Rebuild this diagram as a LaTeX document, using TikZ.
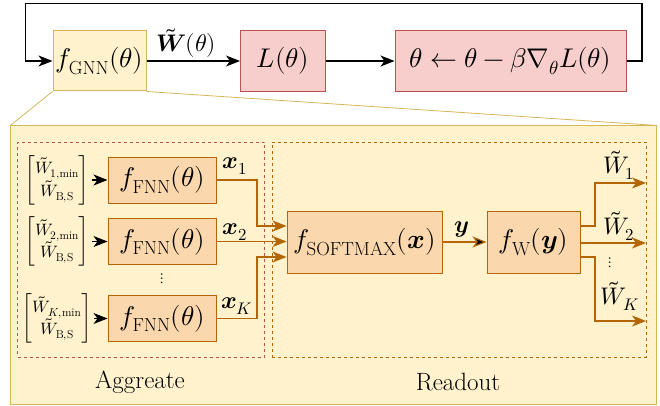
\documentclass[tikz,border=0pt]{standalone}
\usepackage{amsmath}
\usepackage{unicode-math}
\setmathfont{Latin Modern Math}
\usetikzlibrary{arrows.meta}

\definecolor{yelfill}{HTML}{FFF2CC}
\definecolor{yeldraw}{HTML}{D6B656}
\definecolor{redfill}{HTML}{F8CECC}
\definecolor{reddraw}{HTML}{B85450}
\definecolor{orgfill}{HTML}{FAD7AC}
\definecolor{orgdraw}{HTML}{B46504}

\begin{document}
\begin{tikzpicture}[x=1pt, y=-1pt, line width=1.1pt,
  >={Stealth[length=14pt, width=11pt, inset=4pt]},
  big/.style={font=\fontsize{27}{32}\selectfont},
  lab/.style={font=\fontsize{24}{28}\selectfont},
  txt/.style={font=\fontsize{25}{30}\selectfont},
  small/.style={font=\fontsize{16.5}{20}\selectfont},
  dots/.style={font=\fontsize{15}{18}\selectfont, inner sep=0pt},
  box/.style={draw, inner sep=0pt, line width=1pt, big},
  yelbox/.style={box, fill=yelfill, draw=yeldraw},
  redbox/.style={box, fill=redfill, draw=reddraw},
  orgbox/.style={box, fill=orgfill, draw=orgdraw},
  oarr/.style={->, draw=orgdraw},
  karr/.style={->, draw=black}]
\useasboundingbox (0,0) rectangle (660,406);

% top row
\node[yelbox, minimum width=93pt, minimum height=60pt] (gnn) at (99.5,61) {$f_{\mathrm{GNN}}(\theta)$};
\node[redbox, minimum width=85pt, minimum height=61pt] (loss) at (283,61) {$L(\theta)$};
\node[redbox, minimum width=231pt, minimum height=61pt] (update) at (510.5,61) {$\theta \leftarrow \theta - \beta\nabla_{\theta}L(\theta)$};
\node[lab] (wlab) at (186,43) {$\tilde{\symbfit{W}}(\theta)$};
\coordinate (loopR) at (642,3.5);
\coordinate (loopL) at (25.7,3.5);
\path [karr] (gnn) edge (loss);
\path [karr] (loss) edge (update);
\draw[karr] (update.east) -| (loopR) -- (loopL) |- (gnn.west);

% zoomed GNN
\node[draw=yeldraw, fill=yelfill, line width=1pt, minimum width=646pt, minimum height=278pt] (gnnbig) at (333.8,265) {};
\draw[yeldraw, line width=0.8pt] (gnn.south west) -- (gnnbig.north west);
\draw[yeldraw, line width=0.8pt] (gnn.south east) -- (gnnbig.north east);
\node[draw=reddraw, dashed, line width=0.8pt, minimum width=247pt, minimum height=215pt] (agg) at (141,249.5) {};
\node[draw=orgdraw, dashed, line width=0.8pt, minimum width=374pt, minimum height=215pt] (readout) at (459,249.5) {};
\node[txt] (agglab) at (140,382) {Aggreate};
\node[txt] (readlab) at (458,382) {Readout};

% aggregate
\node[orgbox, minimum width=108pt, minimum height=46pt] (fnn1) at (162,180) {$f_{\mathrm{FNN}}(\theta)$};
\node[orgbox, minimum width=108pt, minimum height=46pt] (fnn2) at (162,241.5) {$f_{\mathrm{FNN}}(\theta)$};
\node[orgbox, minimum width=108pt, minimum height=46pt] (fnnK) at (162,318.5) {$f_{\mathrm{FNN}}(\theta)$};
\node[dots] (fdots) at (162,279) {$\vdots$};
\node[small, inner sep=1pt] (vec1) at (57,180) {$\begin{bmatrix}\tilde{W}_{1,\min}\\ \tilde{W}_{\mathrm{B,S}}\end{bmatrix}$};
\node[small, inner sep=1pt] (vec2) at (57,241.5) {$\begin{bmatrix}\tilde{W}_{2,\min}\\ \tilde{W}_{\mathrm{B,S}}\end{bmatrix}$};
\node[small, inner sep=1pt] (vecK) at (57,318.5) {$\begin{bmatrix}\tilde{W}_{K,\min}\\ \tilde{W}_{\mathrm{B,S}}\end{bmatrix}$};
\path [karr] (vec1) edge (fnn1);
\path [karr] (vec2) edge (fnn2);
\path [karr] (vecK) edge (fnnK);

% readout
\node[orgbox, minimum width=155pt, minimum height=62pt] (softmax) at (364.5,242) {$f_{\mathrm{SOFTMAX}}(\symbfit{x})$};
\node[orgbox, minimum width=93pt, minimum height=62pt] (fw) at (533.5,242) {$f_{\mathrm{W}}(\symbfit{y})$};
\draw[oarr] (fnn1.east) -- (257,180) |- ([yshift=16pt]softmax.west);
\draw[oarr] (fnn2.east) -- ([yshift=0.5pt]softmax.west);
\draw[oarr] (fnnK.east) -- (257,318.5) |- ([yshift=-15pt]softmax.west);
\node[lab] (x1lab) at (235,166) {$\symbfit{x}_1$};
\node[lab] (x2lab) at (235,232) {$\symbfit{x}_2$};
\node[lab] (xKlab) at (237,306) {$\symbfit{x}_K$};
\path [oarr] (softmax) edge (fw);
\node[lab] (ylab) at (462,229) {$\symbfit{y}$};

% outputs
\coordinate (out1) at (646,183);
\coordinate (out2) at (646,243);
\coordinate (outK) at (646,321);
\draw[oarr] ([yshift=16pt]fw.east) -- (595,226) |- (out1);
\draw[oarr] ([yshift=-1pt]fw.east) -- (out2);
\draw[oarr] ([yshift=-15pt]fw.east) -- (595,257) |- (outK);
\node[lab] (w1lab) at (619,165) {$\tilde{W}_1$};
\node[lab] (w2lab) at (619,226) {$\tilde{W}_2$};
\node[dots] (wdots) at (610,263) {$\vdots$};
\node[lab] (wKlab) at (620,296) {$\tilde{W}_K$};
\end{tikzpicture}
\end{document}
